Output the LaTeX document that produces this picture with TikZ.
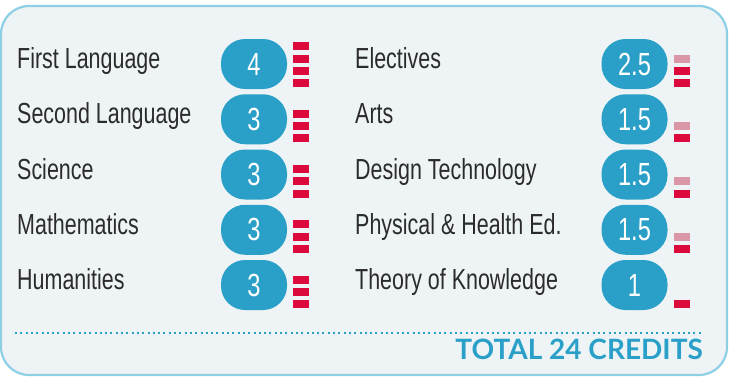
\documentclass[tikz,border=0pt]{standalone}
\usepackage{fontspec}
\setmainfont{Liberation Sans}[FakeStretch=0.74]
\newfontfamily\totalfont{Lato}
\usepackage{tikz}
\usepackage{xcolor}
\usetikzlibrary{calc}
\definecolor{pillcolor}{HTML}{2AA0C8}
\definecolor{barred}{HTML}{DC0A3C}
\definecolor{barpink}{HTML}{DA97A8}
\definecolor{panelbg}{HTML}{EEF4F5}
\definecolor{panelline}{HTML}{8ECFE6}
\definecolor{textdark}{HTML}{2B2B2B}
\newcommand{\bars}[3]{% pill node, full bars, half bar on top (0/1)
\foreach \k in {1,...,#2}
    \fill[barred] ($(#1.south east)+(6,-2-12.3*\k+12.3)$) rectangle ++(16,-8);
\ifnum#3=1
    \fill[barpink] ($(#1.south east)+(6,-2-12.3*#2)$) rectangle ++(16,-8);
\fi}
\tikzstyle{panel} =[
    draw=panelline,
    fill=panelbg,
    line width=2.2pt,
    rounded corners=28pt
    ]
\tikzstyle{subject} =[
    anchor=base west,
    inner sep=0pt,
    text=textdark,
    font=\fontsize{29}{29}\selectfont
    ]
\tikzstyle{pill} =[
    fill=pillcolor,
    text=white,
    rectangle,
    rounded corners=24pt,
    minimum width=66pt,
    minimum height=50pt,
    inner sep=0pt,
    font=\fontsize{32}{32}\selectfont
    ]
\tikzstyle{dotline} =[
    draw=pillcolor,
    line width=2pt,
    dash pattern=on 2pt off 3.3pt
    ]
\tikzstyle{total} =[
    anchor=base east,
    inner sep=0pt,
    text=pillcolor,
    font=\totalfont\bfseries\fontsize{28}{28}\selectfont
    ]

\begin{document}
\begin{tikzpicture}[x=1pt,y=-1pt]
\useasboundingbox (0,0) rectangle (729,376);
\draw[panel] (1,6) rectangle (727,375);

% left column
\node[subject] (first) at (17,68.5) {First Language};
\node[pill] (firstc) at (254,64) {4};
\bars{firstc}{4}{0}
\node[subject] (second) at (17,123.75) {Second Language};
\node[pill] (secondc) at (254,119.25) {3};
\bars{secondc}{3}{0}
\node[subject] (science) at (17,179) {Science};
\node[pill] (sciencec) at (254,174.5) {3};
\bars{sciencec}{3}{0}
\node[subject] (maths) at (17,234.25) {Mathematics};
\node[pill] (mathsc) at (254,229.75) {3};
\bars{mathsc}{3}{0}
\node[subject] (human) at (17,289.5) {Humanities};
\node[pill] (humanc) at (254,285) {3};
\bars{humanc}{3}{0}

% right column
\node[subject] (elect) at (355,68.5) {Electives};
\node[pill] (electc) at (634.5,64) {2.5};
\bars{electc}{2}{1}
\node[subject] (arts) at (355,123.75) {Arts};
\node[pill] (artsc) at (634.5,119.25) {1.5};
\bars{artsc}{1}{1}
\node[subject] (design) at (355,179) {Design Technology};
\node[pill] (designc) at (634.5,174.5) {1.5};
\bars{designc}{1}{1}
\node[subject] (phys) at (355,234.25) {Physical \& Health Ed.};
\node[pill] (physc) at (634.5,229.75) {1.5};
\bars{physc}{1}{1}
\node[subject] (tok) at (355,289.5) {Theory of Knowledge};
\node[pill] (tokc) at (634.5,285) {1};
\bars{tokc}{1}{0}

% total
\coordinate (dotl) at (15,333);
\coordinate (dotr) at (703,333);
\draw[dotline] (dotl) -- (dotr);
\node[total] (credits) at (703,359) {TOTAL 24 CREDITS};
\end{tikzpicture}
\end{document}
